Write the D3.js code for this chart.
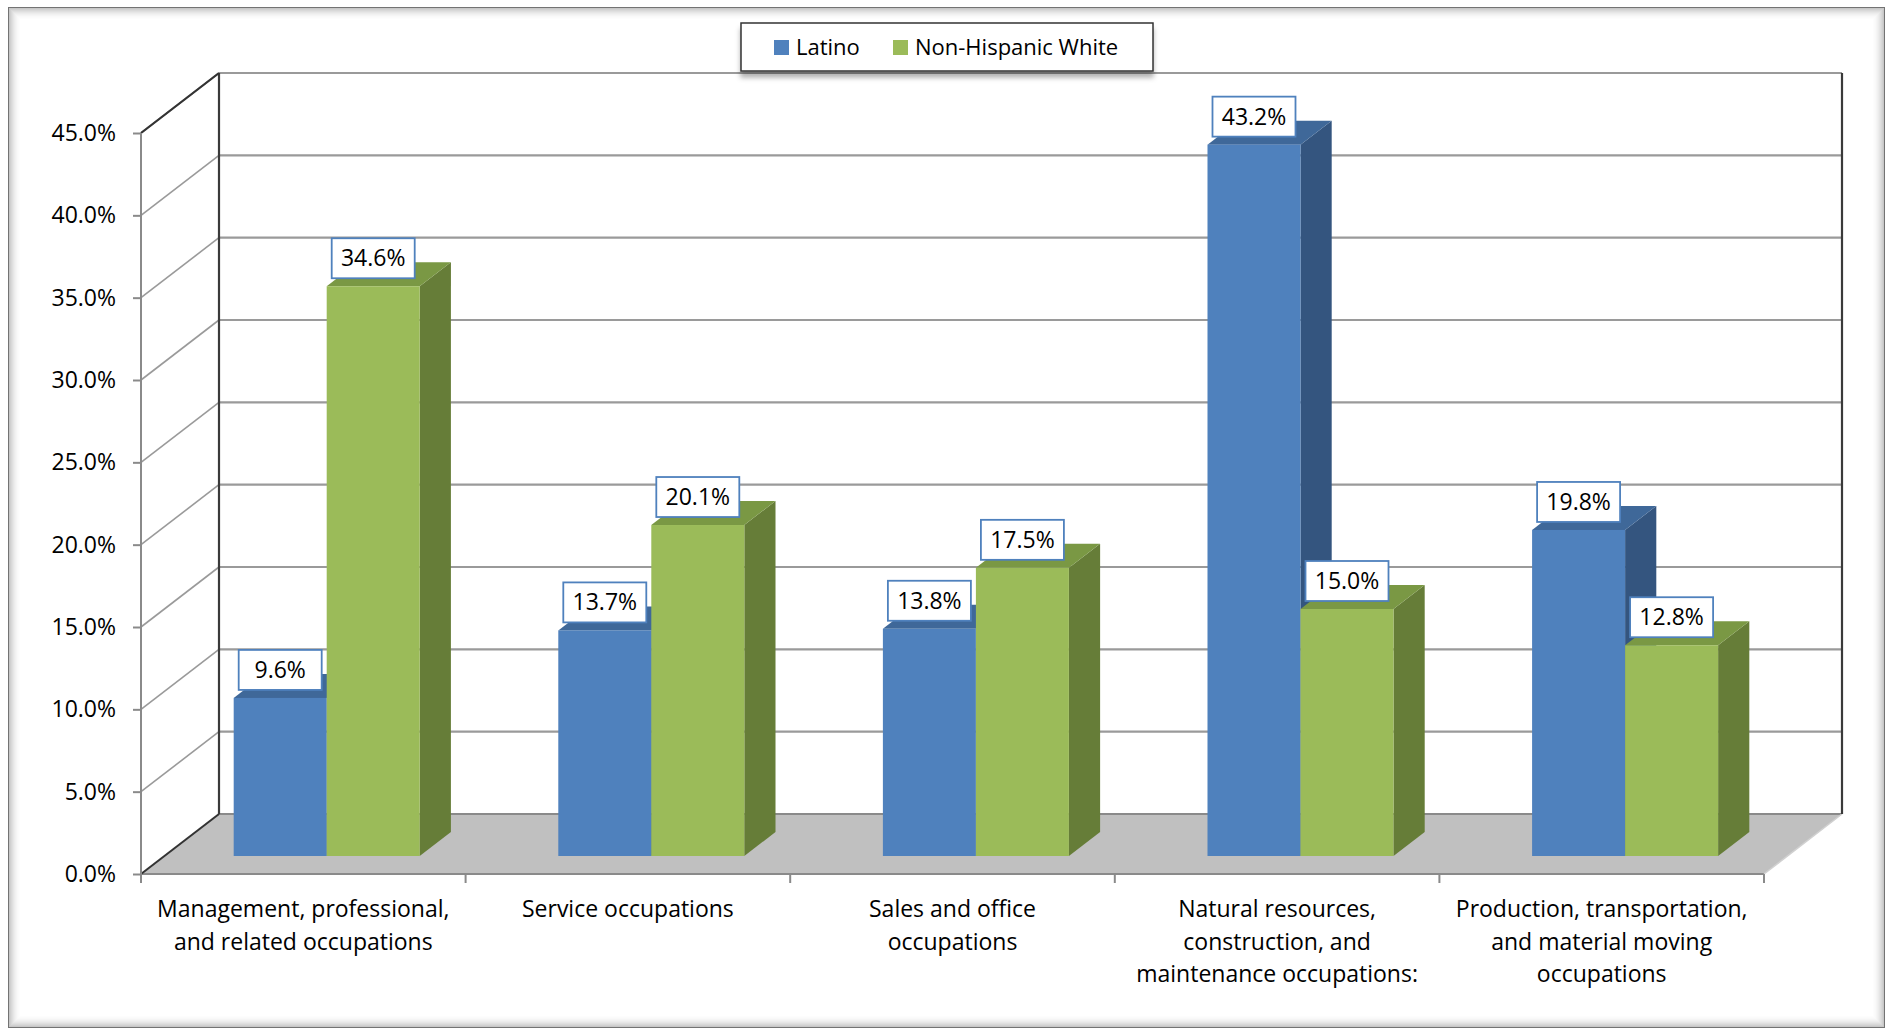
<!DOCTYPE html>
<html>
<head>
<meta charset="utf-8">
<script src="https://cdn.jsdelivr.net/npm/d3@7"></script>
<style>
  html, body { margin: 0; padding: 0; background: #ffffff; }
  svg { display: block; }
  text { font-family: "Open Sans", Lato, "DejaVu Sans", sans-serif; fill: #000; }
</style>
</head>
<body>
<svg id="chart" width="1892" height="1032"></svg>
<script>
// ---- Data ----
const categories = [
  "Management, professional,\nand related occupations",
  "Service occupations",
  "Sales and office\noccupations",
  "Natural resources,\nconstruction, and\nmaintenance occupations:",
  "Production, transportation,\nand material moving\noccupations"
];
const seriesNames = ["Latino", "Non-Hispanic White"];
const latino = [9.6, 13.7, 13.8, 43.2, 19.8];
const nonHispanicWhite = [34.6, 20.1, 17.5, 15.0, 12.8];
const yTickValues = [0, 5, 10, 15, 20, 25, 30, 35, 40, 45];

// ---- Styles / layout ----
const colors = {
  "Latino": { front: "#4f81bd", top: "#3f6899", side: "#34557f" },
  "Non-Hispanic White": { front: "#9bbb59", top: "#7a9844", side: "#667d38" }
};
const depthX = 78, depthY = 60;          // projection of full depth
const barD0 = 0.3, barD1 = 0.7;          // bar depth range
const frontLeft = 141, frontRight = 1764, floorY = 874, topY = 133;

const svg = d3.select("#chart");
const defs = svg.append("defs");
const ds = defs.append("filter").attr("id", "legShadow").attr("x", "-10%").attr("y", "-30%").attr("width", "120%").attr("height", "180%");
ds.append("feDropShadow").attr("dx", 0).attr("dy", 6).attr("stdDeviation", 2.5).attr("flood-color", "#000").attr("flood-opacity", 0.3);

// ---- Frame with inner shadow ----
const frame = svg.append("g");
const fx0 = 8, fy0 = 7, fx1 = 1885, fy1 = 1028;
for (let i = 12; i >= 0; i--) {
  frame.append("rect")
    .attr("x", fx0 + i + 0.5).attr("y", fy0 + i + 0.5)
    .attr("width", fx1 - fx0 - 2 * i - 1).attr("height", fy1 - fy0 - 2 * i - 1)
    .attr("fill", "none")
    .attr("stroke", "#000")
    .attr("stroke-opacity", i === 0 ? 0.55 : 0.26 * Math.pow(1 - i / 13, 2));
}

// ---- Scales ----
const x0 = d3.scaleBand().domain(categories).range([frontLeft, frontRight]).paddingInner(0).paddingOuter(0);
const x1 = d3.scaleBand().domain(seriesNames).range([0, x0.bandwidth()]).paddingInner(0).paddingOuter(0.745);
const y = d3.scaleLinear().domain([0, 45]).range([floorY, topY]);
const proj = (x, yy, d) => [x + depthX * d, yy - depthY * d];

const g = svg.append("g");

// ---- Walls ----
const backLeft = frontLeft + depthX, backRight = frontRight + depthX;
g.append("rect").attr("x", backLeft).attr("y", y(45) - depthY)
  .attr("width", backRight - backLeft).attr("height", y(0) - y(45)).attr("fill", "#fff");
const floorPts = [proj(frontLeft, y(0), 0), proj(frontRight, y(0), 0), proj(frontRight, y(0), 1), proj(frontLeft, y(0), 1)];
g.append("polygon").attr("points", floorPts.map(p => p.join(",")).join(" "))
  .attr("fill", "#c0c0c0").attr("stroke", "none");

// gridlines
yTickValues.forEach(v => {
  const yy = y(v);
  if (v > 0) {
    g.append("line").attr("x1", backLeft).attr("x2", backRight)
      .attr("y1", yy - depthY).attr("y2", yy - depthY)
      .attr("stroke", "#9a9a9a").attr("stroke-width", 2.2);
    g.append("line").attr("x1", frontLeft).attr("y1", yy).attr("x2", backLeft).attr("y2", yy - depthY)
      .attr("stroke", "#9a9a9a").attr("stroke-width", 1.6);
  }
});
g.append("line").attr("x1", backLeft).attr("x2", backRight)
  .attr("y1", y(0) - depthY).attr("y2", y(0) - depthY)
  .attr("stroke", "#8a8a8a").attr("stroke-width", 2);
g.append("line").attr("x1", frontLeft).attr("x2", frontRight).attr("y1", y(0)).attr("y2", y(0))
  .attr("stroke", "#8a8a8a").attr("stroke-width", 2);
g.append("line").attr("x1", frontRight).attr("y1", y(0)).attr("x2", backRight).attr("y2", y(0) - depthY)
  .attr("stroke", "#d0d0d0").attr("stroke-width", 1.5);
g.append("line").attr("x1", frontLeft).attr("y1", y(0)).attr("x2", backLeft).attr("y2", y(0) - depthY)
  .attr("stroke", "#333").attr("stroke-width", 2);
g.append("line").attr("x1", backLeft).attr("x2", backLeft).attr("y1", y(45) - depthY).attr("y2", y(0) - depthY)
  .attr("stroke", "#3a3a3a").attr("stroke-width", 2.2);
g.append("line").attr("x1", backRight).attr("x2", backRight).attr("y1", y(45) - depthY).attr("y2", y(0) - depthY)
  .attr("stroke", "#3a3a3a").attr("stroke-width", 2.2);
g.append("line").attr("x1", frontLeft).attr("y1", y(45)).attr("x2", backLeft).attr("y2", y(45) - depthY)
  .attr("stroke", "#333").attr("stroke-width", 2.2);

// ---- Y axis ----
const yAxis = d3.axisLeft(y).tickValues(yTickValues)
  .tickFormat(d => d.toFixed(1) + "%").tickSize(8).tickPadding(17);
const yg = g.append("g").attr("transform", `translate(${frontLeft},0)`).call(yAxis);
yg.select(".domain").attr("stroke", "#8a8a8a").attr("stroke-width", 2).attr("d", `M0,${y(0)}V${y(45)}`);
yg.selectAll(".tick line").attr("stroke", "#8a8a8a").attr("stroke-width", 2);
yg.selectAll(".tick text").attr("font-size", 23).attr("font-family", "'Open Sans', sans-serif").attr("fill", "#000");

// ---- X axis ticks (at band edges) ----
const edges = categories.map(c => x0(c)).concat([x0(categories[categories.length - 1]) + x0.bandwidth()]);
g.selectAll(".xtick").data(edges).enter().append("line")
  .attr("x1", d => d).attr("x2", d => d).attr("y1", y(0)).attr("y2", y(0) + 9)
  .attr("stroke", "#8a8a8a").attr("stroke-width", 2);

const lab = g.selectAll(".clabel").data(categories).enter().append("text")
  .attr("text-anchor", "middle").attr("font-size", 23);
lab.each(function (c) {
  const lines = c.split("\n");
  const t = d3.select(this);
  lines.forEach((ln, i) => {
    t.append("tspan").attr("x", x0(c) + x0.bandwidth() / 2)
      .attr("y", 917 + i * 32.5).text(ln);
  });
});

// ---- Bars ----
const barData = [];
categories.forEach((c, i) => {
  barData.push({ cat: c, series: "Latino", value: latino[i] });
  barData.push({ cat: c, series: "Non-Hispanic White", value: nonHispanicWhite[i] });
});
const poly = pts => pts.map(p => p[0].toFixed(2) + "," + p[1].toFixed(2)).join(" ");
const bars = g.append("g");
barData.forEach(d => {
  const xl = x0(d.cat) + x1(d.series);
  const xr = xl + x1.bandwidth();
  const yt = y(d.value), yb = y(0);
  const col = colors[d.series];
  const bg = bars.append("g");
  bg.append("polygon").attr("points", poly([proj(xr, yt, barD0), proj(xr, yt, barD1), proj(xr, yb, barD1), proj(xr, yb, barD0)]))
    .attr("fill", col.side);
  bg.append("polygon").attr("points", poly([proj(xl, yt, barD0), proj(xr, yt, barD0), proj(xr, yt, barD1), proj(xl, yt, barD1)]))
    .attr("fill", col.top);
  const f0 = proj(xl, yt, barD0), f1 = proj(xr, yb, barD0);
  bg.append("rect").attr("x", f0[0]).attr("y", f0[1]).attr("width", f1[0] - f0[0]).attr("height", f1[1] - f0[1])
    .attr("fill", col.front);
});

// ---- Data labels ----
const lblW = 83, lblH = 40;
barData.forEach(d => {
  const xl = x0(d.cat) + x1(d.series);
  const xr = xl + x1.bandwidth();
  const ft = proj((xl + xr) / 2, y(d.value), barD0);
  const bx = ft[0] - lblW / 2, by = ft[1] - 8 - lblH;
  g.append("rect").attr("x", bx).attr("y", by).attr("width", lblW).attr("height", lblH)
    .attr("fill", "#fff").attr("stroke", "#4f81bd").attr("stroke-width", 1.8);
  g.append("text").attr("x", ft[0]).attr("y", by + lblH / 2).attr("dy", "0.35em")
    .attr("text-anchor", "middle").attr("font-size", 23).text(d.value.toFixed(1) + "%");
});

// ---- Legend ----
const leg = svg.append("g");
leg.append("rect").attr("x", 741).attr("y", 23).attr("width", 412).attr("height", 48)
  .attr("fill", "#fff").attr("stroke", "#333").attr("stroke-width", 1.5).attr("filter", "url(#legShadow)");
const legX = [774, 893];
seriesNames.forEach((s, i) => {
  leg.append("rect").attr("x", legX[i]).attr("y", 40).attr("width", 15).attr("height", 15).attr("fill", colors[s].front);
  leg.append("text").attr("x", legX[i] + 22).attr("y", 47.5).attr("dy", "0.35em")
    .attr("font-size", 22).text(s);
});
</script>
</body>
</html>
